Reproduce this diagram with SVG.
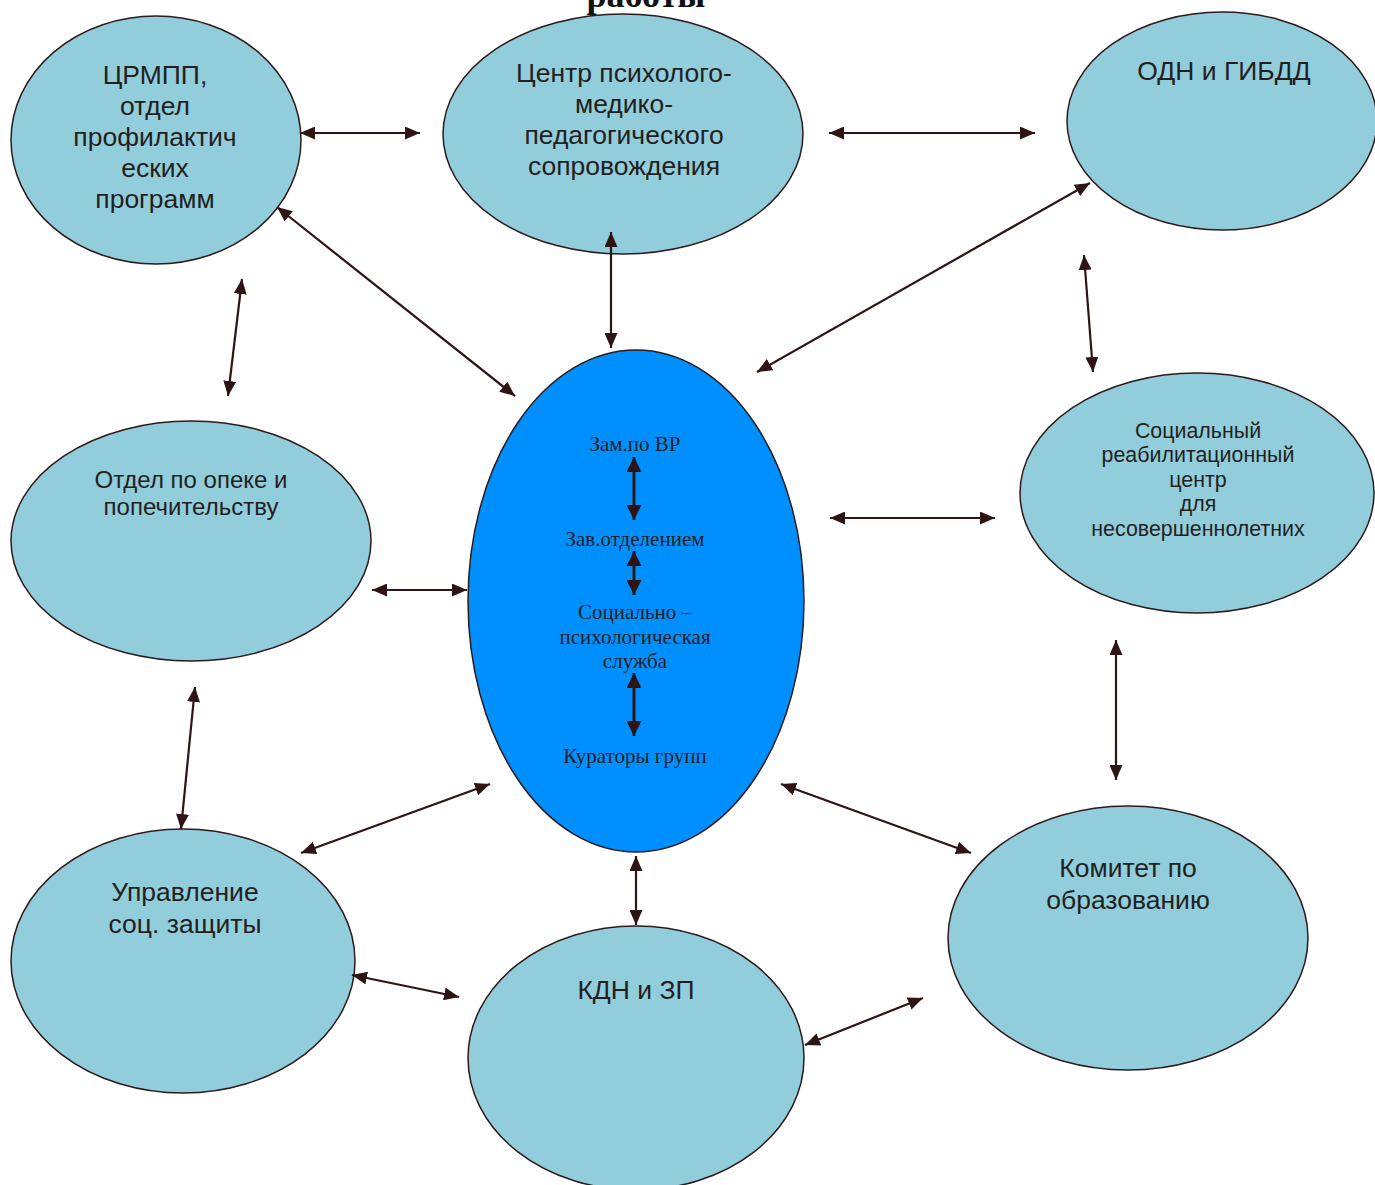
<svg xmlns="http://www.w3.org/2000/svg" width="1375" height="1185" viewBox="0 0 1375 1185">
<style>
.n{fill:#92CDDC;stroke:#2E1A1A;stroke-width:1.5}
.c{fill:#008FFF;stroke:#2E1A1A;stroke-width:1.5}
.t{font-family:"Liberation Sans",Arial,sans-serif;fill:#231F20;text-anchor:middle}
.s{font-family:"Liberation Serif","Times New Roman",serif;fill:#231F20;text-anchor:middle;font-size:21px}
.a{stroke:#2E1414;stroke-width:2.2;fill:none;marker-start:url(#h);marker-end:url(#h)}
.b{stroke:#2E1414;stroke-width:3;fill:none;marker-start:url(#h2);marker-end:url(#h2)}
</style>
<defs>
<marker id="h" viewBox="0 0 15 13" refX="15" refY="6.5" markerWidth="15" markerHeight="13" markerUnits="userSpaceOnUse" orient="auto-start-reverse">
<path d="M0,0 L15,6.5 L0,13 z" fill="#2E1414"/>
</marker>
<marker id="h2" viewBox="0 0 15 15" refX="15" refY="7.5" markerWidth="15" markerHeight="15" markerUnits="userSpaceOnUse" orient="auto-start-reverse">
<path d="M0,0 L15,7.5 L0,15 z" fill="#2E1414"/>
</marker>
</defs>
<rect width="1375" height="1185" fill="#fff"/>
<text x="646" y="7" font-family="Liberation Serif,serif" font-weight="bold" font-size="36" text-anchor="middle" fill="#111">работы</text>
<g id="n1"><ellipse class="n" cx="156" cy="140" rx="145" ry="124"/>
<text class="t" font-size="26.5"><tspan x="155" y="84">ЦРМПП,</tspan><tspan x="155" y="115">отдел</tspan><tspan x="155" y="146">профилактич</tspan><tspan x="155" y="177">еских</tspan><tspan x="155" y="208">программ</tspan></text></g>
<g id="n2"><ellipse class="n" cx="623" cy="134" rx="180" ry="120"/>
<text class="t" font-size="26.5"><tspan x="624" y="82">Центр психолого-</tspan><tspan x="624" y="113">медико-</tspan><tspan x="624" y="144">педагогического</tspan><tspan x="624" y="175">сопровождения</tspan></text></g>
<g id="n3"><ellipse class="n" cx="1222" cy="121" rx="155" ry="109"/>
<text class="t" font-size="26.5"><tspan x="1224" y="80">ОДН и ГИБДД</tspan></text></g>
<g id="n5"><ellipse class="n" cx="191" cy="541" rx="180" ry="120"/>
<text class="t" font-size="24"><tspan x="191" y="488">Отдел по опеке и</tspan><tspan x="191" y="515">попечительству</tspan></text></g>
<g id="n6"><ellipse class="n" cx="1197" cy="493" rx="177" ry="120"/>
<text class="t" font-size="21.4"><tspan x="1198" y="438">Социальный</tspan><tspan x="1198" y="462">реабилитационный</tspan><tspan x="1198" y="487">центр</tspan><tspan x="1198" y="511">для</tspan><tspan x="1198" y="536">несовершеннолетних</tspan></text></g>
<g id="n7"><ellipse class="n" cx="183" cy="961" rx="172" ry="132"/>
<text class="t" font-size="26.5"><tspan x="185" y="901">Управление</tspan><tspan x="185" y="933">соц. защиты</tspan></text></g>
<g id="n8"><ellipse class="n" cx="636" cy="1058" rx="168" ry="132"/>
<text class="t" font-size="26.5"><tspan x="636" y="999">КДН и ЗП</tspan></text></g>
<g id="n9"><ellipse class="n" cx="1128" cy="938" rx="180" ry="132"/>
<text class="t" font-size="26.5"><tspan x="1128" y="877">Комитет по</tspan><tspan x="1128" y="909">образованию</tspan></text></g>
<g id="n4"><ellipse class="c" cx="636" cy="601" rx="168" ry="251"/>
<text class="s"><tspan x="635" y="451">Зам.по ВР</tspan><tspan x="635" y="546">Зав.отделением</tspan><tspan x="635" y="619">Социально –</tspan><tspan x="635" y="644">психологическая</tspan><tspan x="635" y="668">служба</tspan><tspan x="635" y="763">Кураторы групп</tspan></text></g>
<g id="connectors">
<line class="a" x1="300" y1="133" x2="420" y2="133"/>
<line class="a" x1="829" y1="133" x2="1035" y2="133"/>
<line class="a" x1="277" y1="207" x2="515" y2="396"/>
<line class="a" x1="611" y1="232" x2="611" y2="348"/>
<line class="a" x1="1090" y1="183" x2="757" y2="372"/>
<line class="a" x1="242" y1="279" x2="228" y2="396"/>
<line class="a" x1="1084" y1="255" x2="1093" y2="372"/>
<line class="a" x1="830" y1="518" x2="995" y2="518"/>
<line class="a" x1="372" y1="590" x2="467" y2="590"/>
<line class="a" x1="195" y1="687" x2="181" y2="829"/>
<line class="a" x1="1116" y1="640" x2="1116" y2="780"/>
<line class="a" x1="490" y1="784" x2="301" y2="853"/>
<line class="a" x1="781" y1="784" x2="971" y2="853"/>
<line class="a" x1="636" y1="856" x2="636" y2="925"/>
<line class="a" x1="352" y1="975" x2="459" y2="997"/>
<line class="a" x1="805" y1="1045" x2="923" y2="998"/>
<line class="b" x1="634" y1="457" x2="634" y2="520"/>
<line class="b" x1="634" y1="551" x2="634" y2="595"/>
<line class="b" x1="634" y1="673" x2="634" y2="736"/>
</g>
</svg>
